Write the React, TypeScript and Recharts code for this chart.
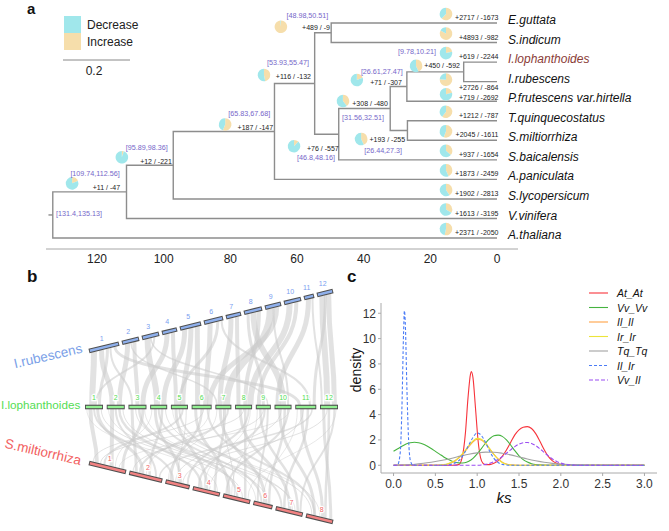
import React from 'react';
import { ComposedChart, LineChart, Line, Scatter, XAxis, YAxis, Sector } from 'recharts';

document.body.style.margin = '0';

const FONT = 'Arial, "Liberation Sans", Helvetica, sans-serif';

// ---------- panel a : gene family tree ----------
const tipNames = ['E.guttata', 'S.indicum', 'I.lophanthoides', 'I.rubescens', 'P.frutescens var.hirtella', 'T.quinquecostatus', 'S.miltiorrhiza', 'S.baicalensis', 'A.paniculata', 'S.lycopersicum', 'V.vinifera', 'A.thaliana'];
const tipGain = [2717, 4893, 619, 2726, 719, 1212, 2045, 937, 1873, 1902, 1613, 2371];
const tipLoss = [1673, 982, 2244, 864, 2692, 787, 1611, 1654, 2459, 2813, 3195, 2050];

const nodeNames = ['n10', 'n8', 'n9', 'n7', 'n5', 'n6', 'n4', 'n3', 'n2', 'n1', 'root'];
const nodeKids: (number | string)[][] = [[2, 3], ['n10', 4], [5, 6], ['n8', 'n9'], ['n7', 7], [0, 1], ['n6', 'n5'], ['n4', 8], ['n3', 9], ['n2', 10], ['n1', 11]];
const nodeLow = [9.78, 26.61, 26.44, 31.56, 46.8, 48.98, 53.93, 65.83, 95.89, 109.74, 131.4];
const nodeHigh = [10.21, 27.47, 27.3, 32.51, 48.16, 50.51, 55.47, 67.68, 98.36, 112.56, 135.13];
const nodeGain = [450, 71, 193, 308, 76, 489, 116, 187, 12, 11, null];
const nodeLoss = [592, 307, 255, 480, 557, 9, 132, 147, 221, 47, null];
const ageTicks = [120, 100, 80, 60, 40, 20, 0];

// where the annotations sit around each node (pixel offsets)
const nodeLayout: Record<string, { pie: number[]; count: number[]; ci: number[] }> = {
  n10: { pie: [-47.7, -6], count: [-3.7, -6], ci: [-46.7, -20] },
  n8: { pie: [-50, -6.5], count: [-5, -4.5], ci: [-25, -15.5] },
  n9: { pie: [-46.3, 8.5], count: [-2.3, 8.5], ci: [-24.3, 19.5] },
  n7: { pie: [-47.3, -7.5], count: [-2.3, -5.5], ci: [-27.3, 8.5] },
  n5: { pie: [-44.7, 12], count: [0, 14], ci: [-22.7, 23] },
  n6: { pie: [-50.3, -6], count: [-1.3, -5], ci: [-23.8, -17] },
  n4: { pie: [-50.7, -8.5], count: [-3.7, -6.5], ci: [-26.7, -20.5] },
  n3: { pie: [-49.3, -7], count: [-1.3, -4], ci: [-25.3, -18] },
  n2: { pie: [-51.4, -8], count: [-1.4, -4], ci: [-26.4, -18] },
  n1: { pie: [-54.4, -8.5], count: [-6.4, -4.5], ci: [-31.4, -18.5] },
  root: { pie: [0, 0], count: [0, 0], ci: [26.3, -1.5] },
};
const tipLayout: Record<number, { pie: number; count: number }> = {
  3: { pie: -2, count: 6 },
  4: { pie: -7, count: -4 },
};

const pos: Record<string, { x: number; y: number }> = {};
tipNames.forEach((_, i) => { pos['t' + i] = { x: 0, y: i }; });
const keyOf = (k: number | string) => (typeof k === 'number' ? 't' + k : k);
nodeNames.forEach((n, i) => {
  const kids = nodeKids[i].map((k) => pos[keyOf(k)]);
  pos[n] = { x: (nodeLow[i] + nodeHigh[i]) / 2, y: kids.reduce((s, k) => s + k.y, 0) / kids.length };
});
const branchPaths = nodeNames.map((n, i) => {
  const [a, b] = nodeKids[i].map((k) => pos[keyOf(k)]);
  const p = pos[n];
  return [{ x: a.x, y: a.y }, { x: p.x, y: a.y }, { x: p.x, y: b.y }, { x: b.x, y: b.y }];
});
const rootStem = [{ x: pos.root.x + 1.3, y: pos.root.y }, { x: pos.root.x, y: pos.root.y }];
const nodePoints = nodeNames.map((n, i) => ({ ...pos[n], name: n, gain: nodeGain[i], loss: nodeLoss[i], lo: nodeLow[i], hi: nodeHigh[i] }));
const tipPoints = tipNames.map((n, i) => ({ ...pos['t' + i], idx: i, name: n, gain: tipGain[i], loss: tipLoss[i] }));

const DEC = '#a0e7eb';
const INC = '#f6deab';

function MiniPie({ cx, cy, gain, loss }: { cx: number; cy: number; gain: number; loss: number }) {
  const f = gain / (gain + loss);
  const mid = 90 - f * 360;
  return (
    <g>
      <Sector cx={cx} cy={cy} innerRadius={0} outerRadius={6.3} startAngle={90} endAngle={mid} fill={INC} />
      <Sector cx={cx} cy={cy} innerRadius={0} outerRadius={6.3} startAngle={mid} endAngle={-270} fill={DEC} />
    </g>
  );
}

const renderNode = (props: any) => {
  const { cx, cy, payload } = props;
  const L = nodeLayout[payload.name];
  return (
    <g>
      {payload.gain != null && <MiniPie cx={cx + L.pie[0]} cy={cy + L.pie[1]} gain={payload.gain} loss={payload.loss} />}
      {payload.gain != null && (
        <text x={cx + L.count[0]} y={cy + L.count[1]} textAnchor="end" dominantBaseline="central" fontSize={7} fill="#222">
          {`+${payload.gain} / -${payload.loss}`}
        </text>
      )}
      <text x={cx + L.ci[0]} y={cy + L.ci[1]} textAnchor="middle" dominantBaseline="central" fontSize={7.2} fill="#7566c9">
        {`[${payload.lo},${payload.hi}]`}
      </text>
    </g>
  );
};

const renderTip = (props: any) => {
  const { cx, cy, payload } = props;
  const o = tipLayout[payload.idx] ?? { pie: -9, count: -5.5 };
  return (
    <g>
      <MiniPie cx={cx - 51} cy={cy + o.pie} gain={payload.gain} loss={payload.loss} />
      <text x={cx + 1.5} y={cy + o.count} textAnchor="end" dominantBaseline="central" fontSize={7} fill="#222">
        {`+${payload.gain} / -${payload.loss}`}
      </text>
      <text x={cx + 11} y={cy - 3} dominantBaseline="central" fontSize={12} fontStyle="italic" fill={payload.name === 'I.lophanthoides' ? '#8a3b36' : '#111'}>
        {payload.name}
      </text>
    </g>
  );
};

function TreePanel() {
  return (
    <ComposedChart width={669} height={265} margin={{ top: 0, right: 151, left: 46, bottom: 0 }}>
      <XAxis type="number" dataKey="x" domain={[-6.3, 135.3]} reversed ticks={ageTicks} tickLine={false} tickSize={3} tickMargin={2} height={16} axisLine={{ stroke: '#a6a6a6' }} tick={{ fontSize: 12, fill: '#222' }} />
      <YAxis type="number" dataKey="y" domain={[-1.1765, 11.56]} reversed hide />
      {branchPaths.map((pts, i) => (
        <Line key={i} data={pts} dataKey="y" type="linear" stroke="#8d8d8d" strokeWidth={1.4} dot={false} activeDot={false} isAnimationActive={false} />
      ))}
      <Line data={rootStem} dataKey="y" type="linear" stroke="#8d8d8d" strokeWidth={1.4} dot={false} activeDot={false} isAnimationActive={false} />
      <Scatter data={nodePoints} shape={renderNode} isAnimationActive={false} />
      <Scatter data={tipPoints} shape={renderTip} isAnimationActive={false} />
    </ComposedChart>
  );
}

// ---------- panel b : synteny ----------
const rubLen = [30, 17, 17, 15, 21, 19, 15, 18, 16, 17, 10, 16];
const lophLen = [18, 18, 18, 17, 17, 20, 16, 17, 15, 17, 21, 18];
const miltLen = [37, 33, 24, 27, 27, 19, 27, 27];

// [rubescens chr, pos, lophanthoides chr, pos, band width]
const rubLophLinks = [
  [1, 0.15, 1, 0.4, 6], [1, 0.4, 2, 0.3, 5], [1, 0.6, 1, 0.8, 3], [1, 0.85, 11, 0.2, 3], [1, 0.7, 3, 0.2, 2],
  [2, 0.3, 2, 0.7, 5], [2, 0.7, 3, 0.5, 4], [3, 0.3, 4, 0.4, 6], [3, 0.7, 1, 0.6, 2], [4, 0.3, 3, 0.8, 5],
  [4, 0.7, 5, 0.3, 4], [5, 0.2, 4, 0.8, 5], [5, 0.5, 5, 0.7, 5], [5, 0.8, 6, 0.3, 5], [6, 0.3, 6, 0.7, 5],
  [6, 0.7, 5, 0.5, 3], [6, 0.9, 11, 0.7, 2], [7, 0.3, 7, 0.3, 5], [7, 0.7, 8, 0.2, 4], [8, 0.2, 9, 0.5, 3],
  [8, 0.5, 10, 0.5, 6], [8, 0.8, 8, 0.6, 4], [9, 0.3, 7, 0.7, 7], [9, 0.7, 6, 0.9, 5], [10, 0.3, 8, 0.9, 6],
  [10, 0.7, 9, 0.2, 4], [11, 0.4, 10, 0.2, 5], [11, 0.8, 12, 0.1, 2], [12, 0.3, 12, 0.4, 6], [12, 0.7, 12, 0.8, 5],
  [12, 0.5, 11, 0.9, 3], [2, 0.5, 7, 0.1, 1.5], [3, 0.5, 9, 0.8, 1.5], [9, 0.5, 10, 0.8, 2],
];
// [lophanthoides chr, pos, miltiorrhiza chr, pos, band width]
const lophMiltLinks = [
  [1, 0.3, 1, 0.2, 4], [1, 0.7, 2, 0.4, 3], [1, 0.5, 3, 0.3, 2], [2, 0.3, 1, 0.6, 4], [2, 0.7, 4, 0.3, 2.5],
  [2, 0.5, 2, 0.8, 2], [3, 0.2, 2, 0.2, 3], [3, 0.6, 5, 0.5, 2.5], [3, 0.8, 1, 0.9, 3], [4, 0.3, 3, 0.6, 3],
  [4, 0.7, 2, 0.6, 2.5], [4, 0.5, 6, 0.4, 2], [5, 0.3, 4, 0.5, 3], [5, 0.7, 1, 0.4, 2], [5, 0.5, 7, 0.2, 2],
  [6, 0.2, 5, 0.2, 3], [6, 0.5, 3, 0.2, 2.5], [6, 0.8, 8, 0.3, 2], [7, 0.3, 6, 0.6, 3], [7, 0.6, 4, 0.8, 2.5],
  [7, 0.8, 2, 0.3, 2], [8, 0.3, 7, 0.5, 3], [8, 0.6, 5, 0.8, 2.5], [8, 0.8, 3, 0.9, 2], [9, 0.3, 7, 0.8, 2.5],
  [9, 0.6, 4, 0.2, 2], [9, 0.8, 6, 0.2, 2], [10, 0.3, 8, 0.3, 3], [10, 0.6, 6, 0.8, 2.5], [10, 0.8, 5, 0.1, 2],
  [11, 0.3, 8, 0.6, 3], [11, 0.6, 7, 0.3, 2.5], [11, 0.8, 2, 0.9, 1.5], [12, 0.2, 8, 0.9, 3], [12, 0.5, 8, 0.7, 2.5],
  [12, 0.8, 7, 0.9, 2], [1, 0.9, 5, 0.7, 1], [3, 0.4, 7, 0.6, 1], [5, 0.9, 3, 0.5, 1], [6, 0.6, 1, 0.1, 1],
  [9, 0.5, 2, 0.1, 1], [11, 0.4, 4, 0.6, 1], [12, 0.4, 3, 0.7, 1], [2, 0.9, 6, 0.7, 1], [4, 0.9, 8, 0.2, 1],
  [8, 0.5, 1, 0.3, 1], [10, 0.4, 3, 0.4, 1], [7, 0.5, 5, 0.4, 1], [1, 0.1, 4, 0.9, 0.8], [2, 0.1, 7, 0.7, 0.8],
  [3, 0.9, 6, 0.1, 0.8], [4, 0.1, 1, 0.7, 0.8], [5, 0.1, 8, 0.5, 0.8], [6, 0.9, 2, 0.5, 0.8], [7, 0.1, 3, 0.1, 0.8],
  [8, 0.9, 4, 0.4, 0.8], [9, 0.1, 5, 0.3, 0.8], [10, 0.9, 1, 0.8, 0.8], [11, 0.1, 6, 0.5, 0.8], [12, 0.9, 5, 0.9, 0.8],
];

type Row = { lengths: number[]; from: number[]; to: number[]; gap: number; fill: string; text: string };
const rowRub: Row = { lengths: rubLen, from: [89, 86], to: [333, 26], gap: 3, fill: '#8fb0ec', text: '#7aa0f0' };
const rowLoph: Row = { lengths: lophLen, from: [85, 142], to: [338, 142], gap: 3.7, fill: '#92f092', text: '#52dd52' };
const rowMilt: Row = { lengths: miltLen, from: [89, 198], to: [333, 257], gap: 3.3, fill: '#f28282', text: '#f06464' };

function rowPoint(r: Row, chr: number, frac: number, normalShift = 0) {
  const total = r.lengths.reduce((s, v) => s + v, 0) + r.gap * (r.lengths.length - 1);
  let off = 0;
  for (let k = 0; k < chr; k++) off += r.lengths[k] + r.gap;
  const t = (off + frac * r.lengths[chr]) / total;
  const dx = r.to[0] - r.from[0];
  const dy = r.to[1] - r.from[1];
  const len = Math.hypot(dx, dy);
  const ux = dx / len, uy = dy / len;
  return { x: r.from[0] + t * dx + uy * normalShift, y: r.from[1] + t * dy - ux * normalShift };
}

const linkPaths = [
  ...rubLophLinks.map((l) => ({ w: l[4], pts: [rowPoint(rowRub, l[0] - 1, l[1], -2), rowPoint(rowLoph, l[2] - 1, l[3], 2)] })),
  ...lophMiltLinks.map((l) => ({ w: l[4], pts: [rowPoint(rowLoph, l[0] - 1, l[1], -2), rowPoint(rowMilt, l[2] - 1, l[3], 2)] })),
];

const allRows = [rowRub, rowLoph, rowMilt];
const chrBars = allRows.flatMap((r) =>
  r.lengths.map((len, i) => {
    const inset = 0.9 / len;
    return {
      fill: r.fill,
      outer: [rowPoint(r, i, 0), rowPoint(r, i, 1)],
      inner: [rowPoint(r, i, inset), rowPoint(r, i, 1 - inset)],
    };
  })
);
const chrLabels = allRows.flatMap((r) => r.lengths.map((_, i) => ({ ...rowPoint(r, i, 0.5, 9.5), label: String(i + 1), color: r.text })));

const renderChrLabel = (props: any) => {
  const { cx, cy, payload } = props;
  return (
    <text x={cx} y={cy} textAnchor="middle" dominantBaseline="central" fontSize={7} fill={payload.color} stroke="#fff" strokeWidth={2.5} paintOrder="stroke">
      {payload.label}
    </text>
  );
};

function SyntenyPanel() {
  return (
    <ComposedChart width={345} height={266} margin={{ top: 0, right: 0, left: 0, bottom: 0 }}>
      <XAxis type="number" dataKey="x" domain={[0, 345]} hide />
      <YAxis type="number" dataKey="y" domain={[0, 266]} reversed hide />
      {linkPaths.map((l, i) => (
        <Line key={'l' + i} data={l.pts} dataKey="y" type="bumpY" stroke="#cbcbcb" strokeOpacity={0.55} strokeWidth={l.w} dot={false} activeDot={false} isAnimationActive={false} />
      ))}
      {chrBars.map((b, i) => (
        <Line key={'o' + i} data={b.outer} dataKey="y" type="linear" stroke="#4f4f4f" strokeWidth={4.6} dot={false} activeDot={false} isAnimationActive={false} />
      ))}
      {chrBars.map((b, i) => (
        <Line key={'i' + i} data={b.inner} dataKey="y" type="linear" stroke={b.fill} strokeWidth={2.4} dot={false} activeDot={false} isAnimationActive={false} />
      ))}
      <Scatter data={chrLabels} shape={renderChrLabel} isAnimationActive={false} />
    </ComposedChart>
  );
}

// ---------- panel c : ks density ----------
const atAt = [[0, 0], [0.7, 0], [0.78, 0.05], [0.82, 0.6], [0.86, 2.6], [0.89, 5.3], [0.92, 7.2], [0.93, 7.4], [0.95, 6.9], [0.98, 4.5], [1.01, 2.0], [1.04, 0.6], [1.07, 0.15], [1.1, 0.05], [1.15, 0.05], [1.2, 0.15], [1.25, 0.35], [1.3, 0.7], [1.35, 1.2], [1.4, 1.8], [1.45, 2.4], [1.5, 2.8], [1.55, 3.0], [1.6, 3.05], [1.65, 2.9], [1.7, 2.5], [1.75, 1.9], [1.8, 1.25], [1.85, 0.7], [1.9, 0.35], [1.95, 0.15], [2.0, 0.05], [2.1, 0], [3.0, 0]];
const vvVv = [[0, 1.1], [0.05, 1.3], [0.1, 1.5], [0.15, 1.68], [0.2, 1.78], [0.25, 1.82], [0.3, 1.78], [0.35, 1.68], [0.4, 1.52], [0.45, 1.32], [0.5, 1.1], [0.55, 0.88], [0.6, 0.66], [0.65, 0.47], [0.7, 0.32], [0.75, 0.22], [0.8, 0.18], [0.85, 0.2], [0.9, 0.32], [0.95, 0.55], [1.0, 0.9], [1.05, 1.32], [1.1, 1.75], [1.15, 2.1], [1.2, 2.33], [1.25, 2.38], [1.3, 2.28], [1.35, 2.0], [1.4, 1.6], [1.45, 1.15], [1.5, 0.75], [1.55, 0.45], [1.6, 0.25], [1.65, 0.12], [1.7, 0.05], [1.8, 0.01], [2.0, 0], [3.0, 0]];
const ilIl = [[0, 0], [0.5, 0], [0.6, 0.04], [0.65, 0.1], [0.7, 0.22], [0.75, 0.42], [0.8, 0.7], [0.85, 1.06], [0.9, 1.48], [0.95, 1.85], [1.0, 2.05], [1.05, 2.0], [1.1, 1.72], [1.15, 1.3], [1.2, 0.86], [1.25, 0.5], [1.3, 0.24], [1.35, 0.1], [1.4, 0.03], [1.5, 0], [3.0, 0]];
const irIr = [[0, 0], [0.5, 0], [0.6, 0.05], [0.65, 0.12], [0.7, 0.25], [0.75, 0.45], [0.8, 0.75], [0.85, 1.12], [0.9, 1.55], [0.95, 1.92], [1.0, 2.12], [1.05, 2.05], [1.1, 1.75], [1.15, 1.3], [1.2, 0.85], [1.25, 0.48], [1.3, 0.22], [1.35, 0.08], [1.4, 0.02], [1.5, 0], [3.0, 0]];
const tqTq = [[0, 0], [0.2, 0.05], [0.3, 0.12], [0.4, 0.2], [0.5, 0.3], [0.6, 0.42], [0.7, 0.56], [0.8, 0.72], [0.9, 0.87], [1.0, 0.98], [1.1, 1.04], [1.2, 1.03], [1.3, 0.95], [1.4, 0.82], [1.5, 0.66], [1.6, 0.5], [1.7, 0.36], [1.8, 0.24], [1.9, 0.15], [2.0, 0.09], [2.1, 0.05], [2.3, 0.01], [2.5, 0], [3.0, 0]];
const ilIr = [[0, 0], [0.05, 0.05], [0.08, 1.0], [0.1, 4.5], [0.12, 10.5], [0.13, 12.2], [0.14, 11.3], [0.16, 6.0], [0.18, 2.0], [0.2, 0.4], [0.23, 0.02], [0.3, 0], [0.6, 0], [0.7, 0.1], [0.8, 0.5], [0.85, 1.0], [0.9, 1.6], [0.95, 2.2], [1.0, 2.55], [1.05, 2.35], [1.1, 1.8], [1.15, 1.1], [1.2, 0.55], [1.25, 0.22], [1.3, 0.07], [1.4, 0], [3.0, 0]];
const vvIl = [[0, 0], [1.0, 0], [1.05, 0.02], [1.1, 0.07], [1.15, 0.15], [1.2, 0.28], [1.25, 0.45], [1.3, 0.68], [1.35, 0.95], [1.4, 1.22], [1.45, 1.47], [1.5, 1.67], [1.55, 1.78], [1.6, 1.8], [1.65, 1.72], [1.7, 1.55], [1.75, 1.3], [1.8, 1.02], [1.85, 0.74], [1.9, 0.5], [1.95, 0.3], [2.0, 0.17], [2.05, 0.08], [2.1, 0.03], [2.2, 0], [3.0, 0]];
const ksTicks = [0, 0.5, 1, 1.5, 2, 2.5, 3];
const densityTicks = [0, 2, 4, 6, 8, 10, 12];

const ksSeries = [
  { name: 'At_At', pts: atAt, color: '#f7333b', dash: undefined },
  { name: 'Vv_Vv', pts: vvVv, color: '#45b33f', dash: undefined },
  { name: 'Il_Il', pts: ilIl, color: '#ffa245', dash: undefined },
  { name: 'Ir_Ir', pts: irIr, color: '#ece43a', dash: undefined },
  { name: 'Tq_Tq', pts: tqTq, color: '#a3a3a3', dash: undefined },
  { name: 'Il_Ir', pts: ilIr, color: '#4c7cf6', dash: '3 2' },
  { name: 'Vv_Il', pts: vvIl, color: '#9a4df2', dash: '4 2' },
];

function DensityPanel() {
  return (
    <LineChart width={339} height={240} margin={{ top: 13, right: 12, left: 16, bottom: 17 }}>
      <XAxis type="number" dataKey="x" domain={[-0.15, 3.15]} ticks={ksTicks} tickFormatter={(v: number) => v.toFixed(1)} tickSize={3} tickMargin={3} height={40} axisLine={{ stroke: '#aaa' }} tickLine={{ stroke: '#aaa' }} tick={{ fontSize: 12, fill: '#333' }} />
      <YAxis type="number" domain={[-0.61, 12.81]} ticks={densityTicks} width={35} tickSize={3} tickMargin={2} axisLine={{ stroke: '#aaa' }} tickLine={{ stroke: '#aaa' }} tick={{ fontSize: 12, fill: '#333' }} />
      {ksSeries.map((s) => (
        <Line key={s.name} name={s.name} data={s.pts.map(([x, y]) => ({ x, y }))} dataKey="y" type="monotone" stroke={s.color} strokeDasharray={s.dash} strokeWidth={1.1} dot={false} activeDot={false} isAnimationActive={false} />
      ))}
    </LineChart>
  );
}

function Overlay() {
  return (
    <svg width={669} height={531} style={{ position: 'absolute', left: 0, top: 0, pointerEvents: 'none' }}>
      <text x={27} y={13.5} fontSize={15} fontWeight="bold" fill="#111">a</text>
      <text x={27} y={282} fontSize={17} fontWeight="bold" fill="#111">b</text>
      <text x={347} y={282} fontSize={17} fontWeight="bold" fill="#111">c</text>

      <rect x={64} y={16} width={17} height={17} fill={DEC} />
      <rect x={64} y={33} width={17} height={17} fill={INC} />
      <text x={87} y={28.5} fontSize={12} fill="#222">Decrease</text>
      <text x={87} y={46} fontSize={12} fill="#222">Increase</text>
      <line x1={63} x2={130} y1={60} y2={60} stroke="#888" strokeWidth={1} />
      <text x={94} y={75} fontSize={12} textAnchor="middle" fill="#222">0.2</text>

      <text x={48} y={356} fontSize={13.5} textAnchor="middle" dominantBaseline="central" fill="#7b9fe8" transform="rotate(-13 48 356)">I.rubescens</text>
      <text x={1} y={404} fontSize={11.7} textAnchor="start" dominantBaseline="central" fill="#55dd55">I.lophanthoides</text>
      <text x={43} y={452} fontSize={13.5} textAnchor="middle" dominantBaseline="central" fill="#f25e5e" transform="rotate(13 43 452)">S.miltiorrhiza</text>

      <text x={361} y={370} fontSize={14} textAnchor="middle" fill="#111" transform="rotate(-90 361 370)">density</text>
      <text x={504} y={503} fontSize={15} fontStyle="italic" textAnchor="middle" fill="#111">ks</text>

      {ksSeries.map((s, i) => (
        <g key={s.name}>
          <line x1={589} x2={608} y1={293 + i * 14.5} y2={293 + i * 14.5} stroke={s.color} strokeWidth={1.1} strokeDasharray={s.dash} />
          <text x={617} y={293 + i * 14.5} fontSize={10.5} fontStyle="italic" dominantBaseline="central" fill="#111">{s.name}</text>
        </g>
      ))}
    </svg>
  );
}

export default function App() {
  return (
    <div style={{ position: 'relative', width: 669, height: 531, background: '#fff', fontFamily: FONT, overflow: 'hidden' }}>
      <div style={{ position: 'absolute', left: 0, top: 0 }}>
        <TreePanel />
      </div>
      <div style={{ position: 'absolute', left: 0, top: 265 }}>
        <SyntenyPanel />
      </div>
      <div style={{ position: 'absolute', left: 330, top: 290 }}>
        <DensityPanel />
      </div>
      <Overlay />
    </div>
  );
}
